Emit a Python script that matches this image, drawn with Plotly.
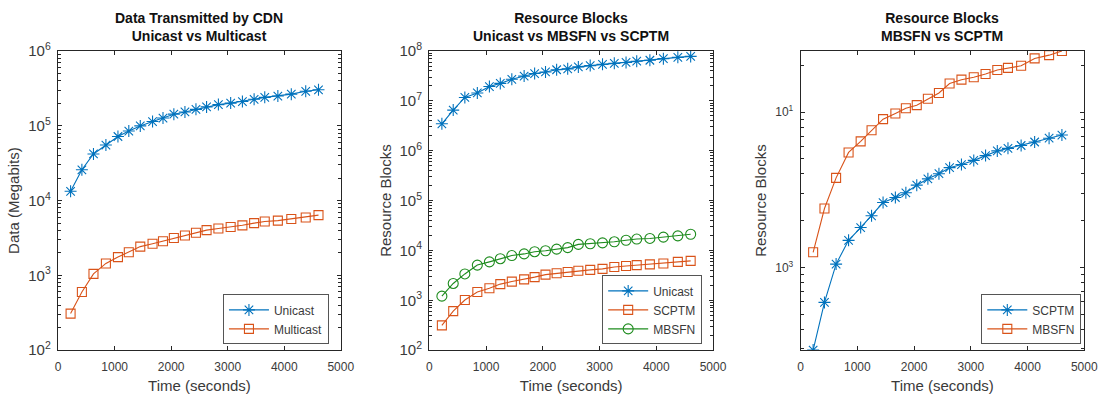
import plotly.graph_objects as go

# ---------------- data ----------------
time_s = [220, 420, 625, 845, 1058, 1250, 1453, 1670, 1855, 2047, 2243,
          2438, 2626, 2835, 3052, 3260, 3467, 3655, 3887, 4125, 4380, 4606]

cdn_unicast = [13300, 25800, 42000, 55300, 71900, 85100, 99600, 114000, 127000, 143000, 153000,
               166000, 179000, 192000, 201000, 211000, 226000, 240000, 250000, 265000, 289000, 303000]
cdn_multicast = [308, 599, 1045, 1443, 1755, 2033, 2423, 2645, 2858, 3158, 3410,
                 3720, 4028, 4230, 4440, 4665, 4990, 5245, 5400, 5680, 5950, 6380]

rb_unicast = [3.47e6, 6.53e6, 1.17e7, 1.44e7, 1.94e7, 2.24e7, 2.71e7, 3.14e7, 3.53e7, 3.80e7, 4.21e7,
              4.39e7, 4.80e7, 5.10e7, 5.40e7, 5.65e7, 5.90e7, 6.25e7, 6.53e7, 7.03e7, 7.46e7, 7.79e7]
rb_scptm = [314, 607, 1014, 1463, 1745, 2110, 2372, 2630, 2917, 3274, 3478,
            3686, 3908, 4080, 4265, 4655, 4864, 5080, 5240, 5480, 5900, 6170]
rb_mbsfn = [1210, 2173, 3375, 5080, 5900, 6820, 7890, 8510, 9420, 9840, 10600,
            11400, 13200, 13600, 14200, 14900, 16000, 16900, 17400, 18500, 19600, 21100]

r_scptm = [294, 596, 1052, 1496, 1808, 2152, 2620, 2824, 3027, 3390, 3724,
           4018, 4395, 4603, 4894, 5253, 5633, 5851, 6104, 6430, 6800, 7130]
r_mbsfn = [1253, 2399, 3777, 5508, 6490, 7650, 9020, 9820, 10600, 11100, 12200,
           13300, 15300, 16200, 16800, 17600, 18700, 19300, 19900, 22200, 23300, 24800]

right_tick_vals = [1000, 10000]
right_tick_text = ["10<sup>3</sup>", "10<sup>1</sup>"]

# ---------------- style ----------------
BLUE = "#0072BD"
ORANGE = "#D95319"
GREEN = "#1E8C1E"
AX = "#262626"
TXT = "#3a3a3a"
FONT = "Liberation Sans, Arial, Helvetica, sans-serif"

W, H = 1115, 401
def px_x(p): return p / W
def px_y(p): return (H - p) / H

panels = [(56, 343), (433, 721), (810, 1098)]
y_dom = [px_y(356), px_y(42)]

fig = go.Figure()

def add(xa, ya, x, y, name, color, symbol, legend, msize=9):
    fig.add_trace(go.Scatter(
        x=x, y=y, name=name, mode="lines+markers", xaxis=xa, yaxis=ya, legend=legend,
        line=dict(color=color, width=1.1),
        marker=dict(symbol=symbol, size=msize, color=color,
                    line=dict(color=color, width=1.1)),
        cliponaxis=True))

add("x", "y", time_s, cdn_unicast, "Unicast", BLUE, "asterisk-open", "legend", 10)
add("x", "y", time_s, cdn_multicast, "Multicast", ORANGE, "square-open", "legend")
add("x2", "y2", time_s, rb_unicast, "Unicast", BLUE, "asterisk-open", "legend2", 10)
add("x2", "y2", time_s, rb_scptm, "SCPTM", ORANGE, "square-open", "legend2")
add("x2", "y2", time_s, rb_mbsfn, "MBSFN", GREEN, "circle-open", "legend2", msize=10)
add("x3", "y3", time_s, r_scptm, "SCPTM", BLUE, "asterisk-open", "legend3", 10)
add("x3", "y3", time_s, r_mbsfn, "MBSFN", ORANGE, "square-open", "legend3")

TITLE_FONT = dict(family=FONT, size=15, color=TXT)
common_x = dict(range=[0, 5000], dtick=1000, tick0=0, showline=True, linecolor=AX, linewidth=1,
                mirror="ticks", ticks="inside", ticklen=4, tickcolor=AX, showgrid=False,
                zeroline=False, tickfont=dict(family=FONT, size=12, color=TXT),
                ticklabelstandoff=5,
                title=dict(text="Time (seconds)", font=TITLE_FONT, standoff=7))
common_y = dict(type="log", showline=True, linecolor=AX, linewidth=1, mirror="ticks",
                ticks="inside", ticklen=4, tickcolor=AX, showgrid=False, zeroline=False,
                exponentformat="power", tickfont=dict(family=FONT, size=12, color=TXT),
                ticklabelstandoff=4,
                minor=dict(ticks="inside", ticklen=3, tickcolor=AX, showgrid=False, dtick="D1"))

for i, (l, r) in enumerate(panels):
    sfx = "" if i == 0 else str(i + 1)
    xa = dict(common_x, domain=[px_x(l), px_x(r)], anchor="y" + sfx)
    fig.layout["xaxis" + sfx] = xa

fig.layout["yaxis"] = dict(common_y, domain=y_dom, anchor="x", range=[2, 6], dtick=1,
                           title=dict(text="Data (Megabits)", font=TITLE_FONT, standoff=4))
fig.layout["yaxis2"] = dict(common_y, domain=y_dom, anchor="x2", range=[2, 8], dtick=1,
                            title=dict(text="Resource Blocks", font=TITLE_FONT, standoff=4))
fig.layout["yaxis3"] = dict(common_y, domain=y_dom, anchor="x3", range=[2.468, 4.394],
                            tickmode="array", tickvals=right_tick_vals, ticktext=right_tick_text,
                            title=dict(text="Resource Blocks", font=TITLE_FONT, standoff=4))

titles = [("Data Transmitted by CDN", "Unicast vs Multicast"),
          ("Resource Blocks", "Unicast vs MBSFN vs SCPTM"),
          ("Resource Blocks", "MBSFN vs SCPTM")]
for (l, r), (t1, t2) in zip(panels, titles):
    fig.add_annotation(x=px_x((l + r) / 2), y=px_y(17), xref="paper", yref="paper",
                       text=f"<b>{t1}</b><br><b>{t2}</b>", showarrow=False,
                       font=dict(family=FONT, size=14, color="#111"), align="center",
                       xanchor="center", yanchor="middle")

leg_common = dict(bgcolor="white", bordercolor="#555", borderwidth=1,
                  font=dict(family=FONT, size=12, color=TXT), xanchor="right", yanchor="bottom",
                  itemwidth=40, tracegroupgap=0)
fig.update_layout(
    legend=dict(leg_common, x=px_x(331), y=px_y(350)),
    legend2=dict(leg_common, x=px_x(710), y=px_y(350)),
    legend3=dict(leg_common, x=px_x(1095), y=px_y(350)),
    width=W, height=H, margin=dict(l=0, r=0, t=0, b=0),
    paper_bgcolor="white", plot_bgcolor="white", showlegend=True,
)

fig.write_html("out.html")
